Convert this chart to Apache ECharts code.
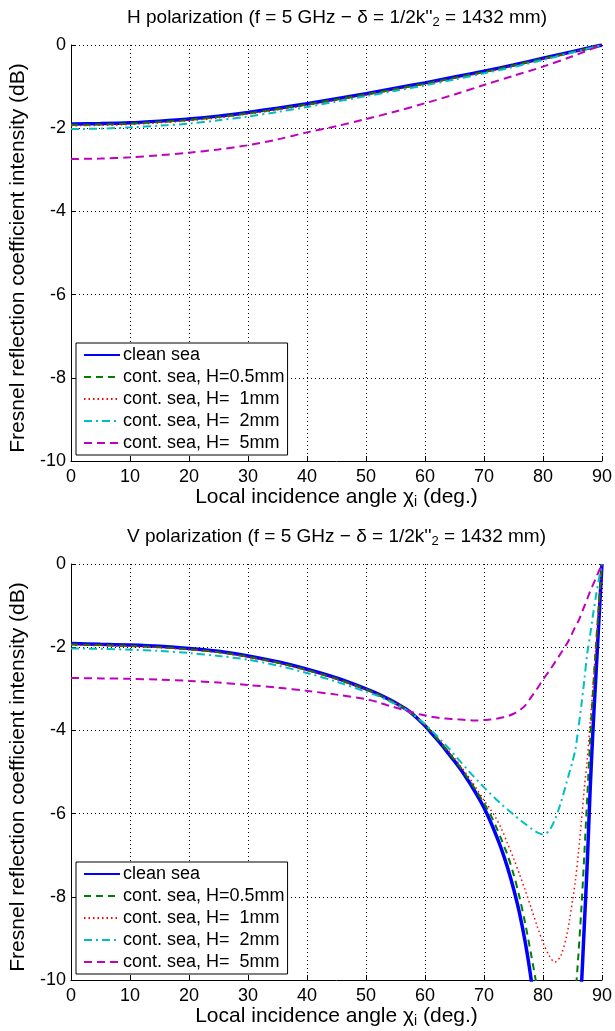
<!DOCTYPE html>
<html><head><meta charset="utf-8">
<script src="https://cdn.jsdelivr.net/npm/echarts@6/dist/echarts.min.js"></script>
<style>html,body{margin:0;padding:0;background:#fff}#c{width:615px;height:1031px}</style>
</head><body><div id="c"></div>
<script>
// ---- data ----
const seriesNames = ['clean sea', 'cont. sea, H=0.5mm', 'cont. sea, H=  1mm', 'cont. sea, H=  2mm', 'cont. sea, H=  5mm'];
const xTicks = [0,10,20,30,40,50,60,70,80,90];
const yTicks = [-10,-8,-6,-4,-2,0];

// H polarization
const hAngles = [0,5,10,15,20,25,30,35,40,45,50,55,60,65,70,75,80,85,90];
const hClean  = [-1.90,-1.89,-1.87,-1.83,-1.78,-1.71,-1.62,-1.52,-1.41,-1.29,-1.17,-1.04,-0.91,-0.77,-0.63,-0.48,-0.32,-0.16,0];
const hH05    = [-1.92,-1.91,-1.89,-1.85,-1.80,-1.73,-1.64,-1.54,-1.43,-1.31,-1.19,-1.06,-0.93,-0.79,-0.65,-0.49,-0.33,-0.17,0];
const hH1     = [-1.94,-1.93,-1.91,-1.87,-1.82,-1.75,-1.66,-1.56,-1.45,-1.33,-1.20,-1.07,-0.94,-0.80,-0.66,-0.50,-0.34,-0.17,0];
const hH2     = [-2.02,-2.01,-1.98,-1.94,-1.89,-1.81,-1.72,-1.61,-1.49,-1.36,-1.23,-1.10,-0.97,-0.83,-0.68,-0.53,-0.36,-0.18,0];
const hH5     = [-2.74,-2.73,-2.70,-2.65,-2.59,-2.51,-2.41,-2.27,-2.10,-1.95,-1.78,-1.60,-1.40,-1.19,-0.96,-0.74,-0.52,-0.27,0];

// V polarization
const vAngles = [0,5,10,15,20,25,30,35,40,45,50,52,54,56,57,58,59,60,61,62,63,64,65,66,67,68,69,70,71,72,73,74,75,76,77,78,79,80,81,82,83,84,84.5,85,85.5,86,86.5,87,87.5,88,88.5,89,89.5,90];
const vClean  = [-1.91,-1.93,-1.95,-1.98,-2.03,-2.10,-2.21,-2.35,-2.53,-2.74,-3.00,-3.12,-3.26,-3.42,-3.51,-3.62,-3.75,-3.89,-4.05,-4.21,-4.38,-4.56,-4.74,-4.93,-5.14,-5.36,-5.60,-5.86,-6.16,-6.50,-6.87,-7.30,-7.80,-8.38,-9.10,-10.0,-11.2,-13.0,-14.7,-16.5,-18.0,-17.0,-15.8,-14.5,-13.2,-11.6,-10.2,-8.7,-7.2,-5.4,-3.9,-2.6,-1.3,0];
const vH05    = [-1.93,-1.95,-1.97,-2.00,-2.05,-2.12,-2.23,-2.37,-2.55,-2.76,-3.01,-3.13,-3.27,-3.42,-3.51,-3.62,-3.74,-3.88,-4.03,-4.19,-4.36,-4.53,-4.71,-4.89,-5.09,-5.30,-5.52,-5.75,-6.00,-6.30,-6.64,-7.00,-7.45,-8.00,-8.65,-9.40,-10.2,-11.2,-12.2,-13.0,-13.4,-13.0,-12.4,-11.5,-10.4,-9.4,-8.3,-7.0,-5.6,-4.2,-3.0,-1.9,-0.9,0];
const vH1     = [-1.95,-1.96,-1.98,-2.01,-2.06,-2.13,-2.24,-2.38,-2.56,-2.77,-3.02,-3.14,-3.27,-3.42,-3.51,-3.62,-3.74,-3.87,-4.01,-4.16,-4.33,-4.50,-4.67,-4.85,-5.04,-5.24,-5.46,-5.68,-5.88,-6.10,-6.38,-6.72,-7.07,-7.45,-7.85,-8.27,-8.70,-9.10,-9.40,-9.57,-9.42,-8.95,-8.55,-8.10,-7.60,-6.95,-6.20,-5.40,-4.70,-3.80,-2.90,-1.95,-1.00,0];
const vH2     = [-2.03,-2.04,-2.06,-2.09,-2.14,-2.21,-2.30,-2.44,-2.62,-2.83,-3.07,-3.17,-3.30,-3.44,-3.52,-3.62,-3.73,-3.85,-3.99,-4.13,-4.28,-4.43,-4.59,-4.75,-4.91,-5.07,-5.22,-5.37,-5.51,-5.65,-5.78,-5.90,-6.02,-6.14,-6.25,-6.36,-6.45,-6.50,-6.42,-6.15,-5.75,-5.25,-5.00,-4.75,-4.45,-3.95,-3.40,-2.80,-2.15,-1.70,-1.20,-0.75,-0.35,0];
const vH5     = [-2.74,-2.75,-2.76,-2.78,-2.81,-2.85,-2.91,-2.97,-3.05,-3.14,-3.25,-3.32,-3.41,-3.49,-3.53,-3.57,-3.61,-3.64,-3.67,-3.69,-3.71,-3.72,-3.73,-3.74,-3.75,-3.76,-3.76,-3.75,-3.74,-3.72,-3.69,-3.66,-3.60,-3.52,-3.40,-3.20,-3.00,-2.78,-2.58,-2.37,-2.15,-1.93,-1.80,-1.65,-1.50,-1.37,-1.20,-1.02,-0.84,-0.65,-0.49,-0.33,-0.16,0];

const hTitle = "H polarization (f = 5 GHz \u2212 \u03b4 = 1/2k''{sub|2} = 1432 mm)";
const vTitle = "V polarization (f = 5 GHz \u2212 \u03b4 = 1/2k''{sub|2} = 1432 mm)";
const xName = "Local incidence angle \u03c7{sub|i} (deg.)";
const yName = "Fresnel reflection coefficient intensity (dB)";

// ---- styles ----
const styles = [
  {color:'#0000ff', width:3.5, type:'solid'},
  {color:'#007f00', width:2, type:[7,5]},
  {color:'#ff0000', width:1.5, type:[1.5,3]},
  {color:'#00bfbf', width:2, type:[8,4,2,4]},
  {color:'#bf00bf', width:2, type:[8,5]}
];
const FONT = 'Liberation Sans, Arial, Helvetica, sans-serif';
const subT = {sub:{fontSize:13, fontFamily:FONT, verticalAlign:'bottom', padding:[9,0,0,0]}};
const subX = {sub:{fontSize:14, fontFamily:FONT, verticalAlign:'bottom', padding:[10,0,0,0]}};

function pairs(xs, ys){ return xs.map((x,i)=>[x, ys[i]]); }

const grids = [
  {left:71, width:532, top:45, height:416},
  {left:71, width:532, top:564, height:416}
];

function xAxisFor(i){
  return {gridIndex:i, type:'value', min:0, max:90, interval:10,
    axisLine:{show:true, onZero:false, lineStyle:{color:'#000', width:1}},
    axisTick:{show:true, inside:true, length:5, lineStyle:{color:'#000'}},
    axisLabel:{color:'#000', fontSize:18, fontFamily:FONT, margin:7},
    splitLine:{show:true, lineStyle:{color:'#000', width:1, type:[1,3]}},
    name:xName, nameLocation:'middle', nameGap:20,
    nameTextStyle:{color:'#000', fontSize:21, fontFamily:FONT, rich:subX}};
}
function yAxisFor(i){
  return {gridIndex:i, type:'value', min:-10, max:0, interval:2,
    axisLine:{show:true, onZero:false, lineStyle:{color:'#000', width:1}},
    axisTick:{show:true, inside:true, length:5, lineStyle:{color:'#000'}},
    axisLabel:{color:'#000', fontSize:18, fontFamily:FONT, margin:5},
    splitLine:{show:true, lineStyle:{color:'#000', width:1, type:[1,3]}},
    name:yName, nameLocation:'middle', nameGap:41, nameRotate:90,
    nameTextStyle:{color:'#000', fontSize:21, fontFamily:FONT, padding:[0,10,0,0]}};
}

const hData = [hClean, hH05, hH1, hH2, hH5];
const vData = [vClean, vH05, vH1, vH2, vH5];
const series = [];
hData.forEach((ys,k)=>series.push({name:seriesNames[k], type:'line', xAxisIndex:0, yAxisIndex:0,
  data:pairs(hAngles, ys), symbol:'none', smooth:0.3, clip:true, z:2+k, animation:false,
  itemStyle:{color:styles[k].color}, lineStyle:styles[k]}));
vData.forEach((ys,k)=>series.push({name:seriesNames[k], type:'line', xAxisIndex:1, yAxisIndex:1,
  data:pairs(vAngles, ys), symbol:'none', smooth:0.3, clip:true, z:2+k, animation:false,
  itemStyle:{color:styles[k].color}, lineStyle:styles[k]}));

function legendAt(top){
  return {data:seriesNames, orient:'vertical', left:76, top:top, padding:[3,3,3,7], itemGap:4,
    itemWidth:36, itemHeight:18, backgroundColor:'#fff', borderColor:'#000', borderWidth:1,
    borderRadius:0, selectedMode:false,
    itemStyle:{opacity:0},
    textStyle:{color:'#000', fontSize:18, fontFamily:FONT, padding:[0,0,0,-2]}};
}

const chart = echarts.init(document.getElementById('c'), null, {renderer:'canvas'});
chart.setOption({
  backgroundColor:'#fff',
  animation:false,
  title:[
    {text:hTitle, left:127, top:7, padding:0, textStyle:{color:'#000', fontSize:19, fontWeight:'normal', fontFamily:FONT, rich:subT}},
    {text:vTitle, left:127, top:526, padding:0, textStyle:{color:'#000', fontSize:19, fontWeight:'normal', fontFamily:FONT, rich:subT}}
  ],
  grid:grids,
  xAxis:[xAxisFor(0), xAxisFor(1)],
  yAxis:[yAxisFor(0), yAxisFor(1)],
  legend:[legendAt(343), legendAt(862)],
  series:series
});
</script>
</body></html>
